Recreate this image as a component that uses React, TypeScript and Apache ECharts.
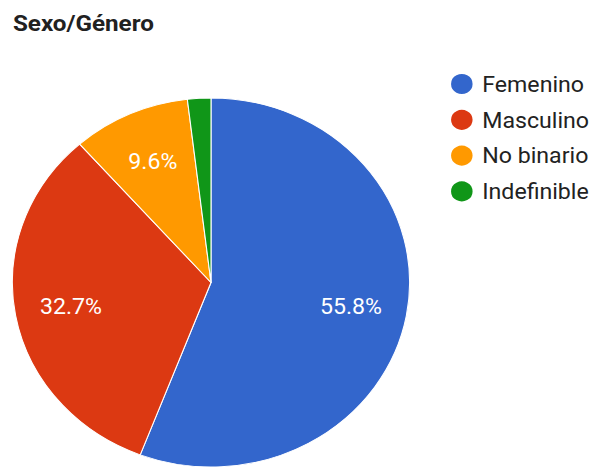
import React, { useEffect, useRef } from "react";
import * as echarts from "echarts";

const title = "Sexo/Género";
const categories = ["Femenino", "Masculino", "No binario", "Indefinible"];
const values = [55.8, 32.7, 9.6, 1.9];
const colors = ["#3366cc", "#dc3912", "#ff9900", "#109618"];

const INNER_W = 549;
const H = 468;
const SX = 591 / INNER_W;

export default function App() {
  const ref = useRef<HTMLDivElement>(null);
  useEffect(() => {
    if (!ref.current) return;
    const chart = echarts.init(ref.current, undefined, { renderer: "svg" });
    const data = categories.map((name, i) => ({ name, value: values[i] }));
    const font = "Roboto, 'Liberation Sans', Arial, sans-serif";
    chart.setOption({
      animation: false,
      color: colors,
      title: {
        text: title,
        left: 12,
        top: 12,
        padding: 0,
        textStyle: { fontFamily: font, fontSize: 22.5, fontWeight: "bold", color: "#212121" },
      },
      legend: {
        orient: "vertical",
        left: 417,
        top: 72,
        padding: 0,
        icon: "circle",
        itemWidth: 22,
        itemHeight: 22,
        itemGap: 11.8,
        data: categories,
        textStyle: {
          fontFamily: font,
          fontSize: 21.5,
          lineHeight: 22,
          color: "#222",
          padding: [0, 0, 0, 3],
        },
      },
      series: [
        {
          type: "pie",
          center: [196, 282.5],
          radius: 184.5,
          startAngle: 90,
          clockwise: true,
          data,
          label: { show: false },
          labelLine: { show: false },
          itemStyle: { borderColor: "#fff", borderWidth: 1 },
          emphasis: { disabled: true },
        },
        {
          type: "pie",
          center: [196, 282.5],
          radius: [74, 184.5],
          startAngle: 90,
          clockwise: true,
          silent: true,
          data,
          itemStyle: { color: "rgba(0,0,0,0)" },
          label: {
            show: true,
            position: "inside",
            color: "#fff",
            fontFamily: font,
            fontSize: 21.5,
            formatter: (p: any) => (p.value >= 5 ? p.value.toFixed(1) + "%" : ""),
          },
          labelLine: { show: false },
          emphasis: { disabled: true },
        },
      ],
    });
    return () => chart.dispose();
  }, []);
  return (
    <div
      style={{
        position: "fixed",
        left: 0,
        top: 0,
        width: INNER_W,
        height: H,
        transform: `scaleX(${SX})`,
        transformOrigin: "0 0",
        background: "#fff",
      }}
    >
      <div ref={ref} style={{ width: INNER_W, height: H }} />
    </div>
  );
}
